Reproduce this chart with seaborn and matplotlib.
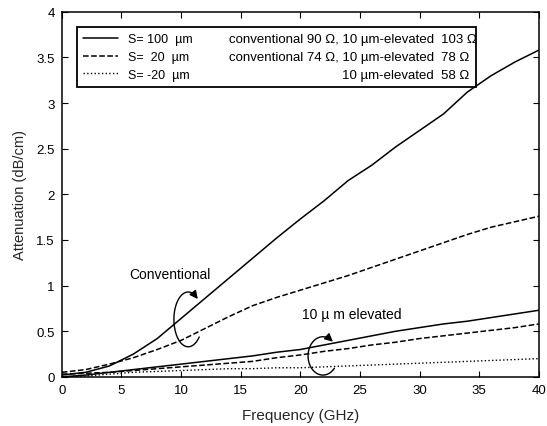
import numpy as np
import pandas as pd
import matplotlib
matplotlib.use("Agg")
import matplotlib.pyplot as plt
import seaborn as sns

# ---- data (attenuation in dB/cm) ----
freq_ghz = [0, 2, 4, 6, 8, 10, 12, 14, 16, 18, 20, 22, 24, 26, 28, 30, 32, 34, 36, 38, 40]

conv_s100 = [0.02, 0.05, 0.12, 0.25, 0.42, 0.64, 0.86, 1.08, 1.30, 1.52, 1.73,
             1.93, 2.15, 2.32, 2.52, 2.70, 2.88, 3.12, 3.30, 3.45, 3.58]
conv_s20 = [0.05, 0.08, 0.14, 0.21, 0.30, 0.40, 0.53, 0.66, 0.78, 0.87, 0.95,
            1.03, 1.11, 1.20, 1.29, 1.38, 1.47, 1.56, 1.64, 1.70, 1.76]
elev_s100 = [0.00, 0.02, 0.05, 0.08, 0.11, 0.14, 0.17, 0.20, 0.23, 0.27, 0.30,
             0.35, 0.40, 0.45, 0.50, 0.54, 0.58, 0.61, 0.65, 0.69, 0.73]
elev_s20 = [0.03, 0.04, 0.05, 0.07, 0.09, 0.11, 0.13, 0.15, 0.17, 0.21, 0.24,
            0.28, 0.31, 0.35, 0.38, 0.42, 0.45, 0.48, 0.51, 0.54, 0.58]
elev_sm20 = [0.00, 0.01, 0.03, 0.05, 0.06, 0.07, 0.08, 0.09, 0.09, 0.10, 0.10,
             0.11, 0.12, 0.13, 0.14, 0.15, 0.16, 0.17, 0.18, 0.19, 0.20]

legend_s = ["S= 100  \u00b5m", "S=  20  \u00b5m", "S= -20  \u00b5m"]
legend_mid = ["conventional 90 \u03a9, 10 \u00b5m-elevated",
              "conventional 74 \u03a9, 10 \u00b5m-elevated",
              "10 \u00b5m-elevated"]
legend_ohm = ["103 \u03a9", "78 \u03a9", "58 \u03a9"]

x_ticks = [0, 5, 10, 15, 20, 25, 30, 35, 40]
y_ticks = [0, 0.5, 1, 1.5, 2, 2.5, 3, 3.5, 4]
y_tick_labels = ["0", "0.5", "1", "1.5", "2", "2.5", "3", "3.5", "4"]

# ---- style ----
sns.set_style("ticks")
plt.rcParams["font.family"] = ["Liberation Sans", "DejaVu Sans"]
plt.rcParams["text.color"] = "black"
plt.rcParams["xtick.direction"] = "in"
plt.rcParams["ytick.direction"] = "in"

fig = plt.figure(figsize=(5.47, 4.27), dpi=100)
ax = fig.add_axes([0.113, 0.115, 0.872, 0.855])

solid = dict(color="black", lw=1.1)
dashed = dict(color="black", lw=1.1, dashes=(5, 3))
dotted = dict(color="black", lw=1.0, dashes=(1.2, 0.6))

l1 = sns.lineplot(x=freq_ghz, y=conv_s100, ax=ax, **solid).lines[-1]
l2 = sns.lineplot(x=freq_ghz, y=conv_s20, ax=ax, linestyle="--", **dashed).lines[-1]
sns.lineplot(x=freq_ghz, y=elev_s100, ax=ax, **solid)
sns.lineplot(x=freq_ghz, y=elev_s20, ax=ax, linestyle="--", **dashed)
l3 = sns.lineplot(x=freq_ghz, y=elev_sm20, ax=ax, linestyle=":", **dotted).lines[-1]

ax.set_xlim(0, 40)
ax.set_ylim(0, 4)
ax.set_xticks(x_ticks)
ax.set_yticks(y_ticks)
ax.set_yticklabels(y_tick_labels)
ax.tick_params(labelsize=9.5, length=4, width=0.8, top=True, right=True,
               colors="black", pad=5)
for sp in ax.spines.values():
    sp.set_color("black")
    sp.set_linewidth(1.1)
ax.set_xlabel("Frequency (GHz)", fontsize=11, labelpad=9)
ax.set_ylabel("Attenuation (dB/cm)", fontsize=10.5, labelpad=7)

# ---- curved arrows marking the two groups ----
def loop_arrow(cx, cy, rx, ry):
    th = np.radians(np.linspace(-40, -312, 90))
    xs = cx + rx * np.cos(th)
    ys = cy + ry * np.sin(th)
    ax.plot(xs[:-4], ys[:-4], color="black", lw=1.0)
    ax.annotate("", xy=(xs[-1], ys[-1]), xytext=(xs[-6], ys[-6]),
                arrowprops=dict(arrowstyle="-|>", color="black", lw=1.0,
                                mutation_scale=12, shrinkA=0, shrinkB=0))

loop_arrow(10.6, 0.63, 1.2, 0.30)
loop_arrow(21.9, 0.23, 1.25, 0.21)

ax.text(9.1, 1.13, "Conventional", fontsize=10, ha="center", va="center")
ax.text(24.3, 0.69, "10 \u00b5 m elevated", fontsize=10, ha="center", va="center")

# ---- legend with extra columns ----
leg = ax.legend([l1, l2, l3], legend_s, loc="upper left",
                bbox_to_anchor=(0.031, 0.958, 0.837, 0), mode="expand",
                fontsize=9, frameon=True, fancybox=False, edgecolor="black",
                framealpha=1, handlelength=2.8, handletextpad=0.8,
                labelspacing=0.45, borderpad=0.5, borderaxespad=0)
leg.get_frame().set_linewidth(1.3)

fig.canvas.draw()
inv = ax.transAxes.inverted()
for txt, mid, ohm in zip(leg.get_texts(), legend_mid, legend_ohm):
    bb = txt.get_window_extent()
    _, yc = inv.transform((0, (bb.y0 + bb.y1) / 2))
    ax.text(0.780, yc, mid, transform=ax.transAxes, fontsize=9.5,
            ha="right", va="center", zorder=10)
    ax.text(0.795, yc, ohm, transform=ax.transAxes, fontsize=9.5,
            ha="left", va="center", zorder=10)

fig.savefig("out.png", dpi=100)
